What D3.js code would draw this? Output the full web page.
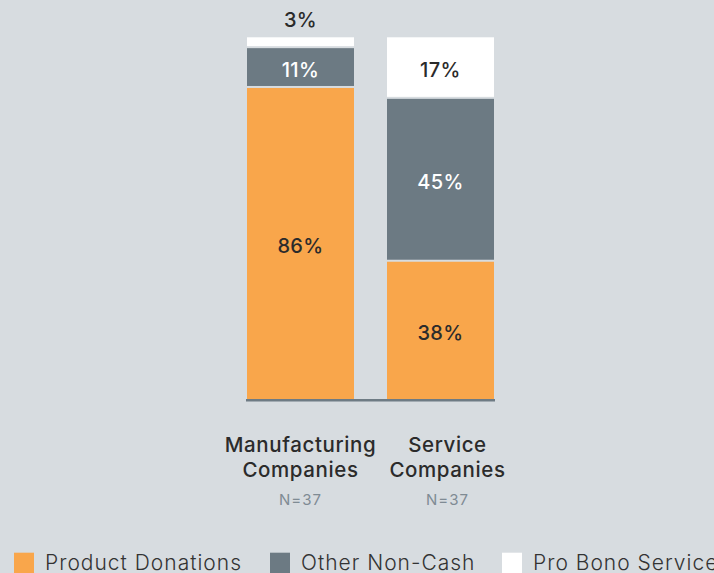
<!DOCTYPE html>
<html>
<head>
<meta charset="utf-8">
<script src="https://cdn.jsdelivr.net/npm/d3@7"></script>
<style>
  html, body { margin: 0; padding: 0; background: #d7dce0; overflow: hidden; }
  svg { display: block; font-family: Inter, "Noto Sans", sans-serif; }
</style>
</head>
<body>
<svg id="chart" width="714" height="573"></svg>
<script>
// Categories and sample sizes
const categories = ["Manufacturing Companies", "Service Companies"];
const categoryLines = [["Manufacturing", "Companies"], ["Service", "Companies"]];
const sampleSizes = ["N=37", "N=37"];

// Share of non-cash giving by type (percent), stacked bottom to top
const seriesNames = ["Product Donations", "Other Non-Cash", "Pro Bono Service"];
const productDonations = [86, 38];
const otherNonCash = [11, 45];
const proBonoService = [3, 17];

const colors = ["#f9a64b", "#6c7a83", "#ffffff"];
const labelColors = ["#2b2b2b", "#ffffff", "#2b2b2b"];

const svg = d3.select("#chart");

const rows = categories.map((c, i) => ({
  category: c,
  [seriesNames[0]]: productDonations[i],
  [seriesNames[1]]: otherNonCash[i],
  [seriesNames[2]]: proBonoService[i]
}));

const series = d3.stack().keys(seriesNames)(rows);

const x = d3.scaleBand()
  .domain(categories)
  .range([247, 494])
  .paddingInner(0.2357)
  .paddingOuter(0);

const y = d3.scaleLinear().domain([0, 100]).range([399.3, 37.3]);

// Stacked segments, with a thin gap above each lower segment
const gap = 2;
const layers = svg.append("g").selectAll("g")
  .data(series)
  .join("g")
  .attr("fill", (d, i) => colors[i]);

layers.selectAll("rect")
  .data(d => d.map(p => ({ p, key: d.key })))
  .join("rect")
  .attr("x", d => x(d.p.data.category))
  .attr("width", x.bandwidth())
  .attr("y", d => y(d.p[1]))
  .attr("height", d => y(d.p[0]) - y(d.p[1]) - (d.p[0] > 0 ? gap : 0));

// Baseline
svg.append("line")
  .attr("x1", x.range()[0] - 1)
  .attr("x2", x.range()[1] + 1)
  .attr("y1", y(0) + 1)
  .attr("y2", y(0) + 1)
  .attr("stroke", "#6e7b84")
  .attr("stroke-width", 2.5);

// Value labels: inside the segment, or above the bar when the segment is thin
const labels = svg.append("g")
  .attr("font-size", 20)
  .attr("font-weight", 500)
  .attr("letter-spacing", 0.4)
  .attr("text-anchor", "middle");

series.forEach((s, si) => {
  s.forEach(p => {
    const v = p[1] - p[0];
    const cx = x(p.data.category) + x.bandwidth() / 2;
    const top = y(p[1]), bottom = y(p[0]) - (p[0] > 0 ? gap : 0);
    const thin = bottom - top < 20;
    labels.append("text")
      .attr("x", cx)
      .attr("y", thin ? y(100) - 10.5 : (top + bottom) / 2 + 9.5)
      .attr("fill", thin ? "#2b2b2b" : labelColors[si])
      .text(v + "%");
  });
});

// Category labels and sample sizes
const labelShift = [0, 7];
const catG = svg.append("g").attr("text-anchor", "middle");
categories.forEach((c, i) => {
  const cx = x(c) + x.bandwidth() / 2 + labelShift[i];
  categoryLines[i].forEach((line, li) => {
    catG.append("text")
      .attr("x", cx)
      .attr("y", 451.7 + li * 25)
      .attr("font-size", 20.5)
      .attr("font-weight", 500)
      .attr("letter-spacing", 0.6)
      .attr("fill", "#2b2b2b")
      .text(line);
  });
  catG.append("text")
    .attr("x", cx)
    .attr("y", 505)
    .attr("font-size", 15)
    .attr("font-weight", 400)
    .attr("letter-spacing", 1)
    .attr("fill", "#7f8b94")
    .text(sampleSizes[i]);
});

// Legend
const legendX = [14, 270, 502];
const legend = svg.append("g");
seriesNames.forEach((name, i) => {
  legend.append("rect")
    .attr("x", legendX[i])
    .attr("y", 552.7)
    .attr("width", 20)
    .attr("height", 21)
    .attr("fill", colors[i]);
  legend.append("text")
    .attr("x", legendX[i] + 31)
    .attr("y", 570)
    .attr("font-size", 21)
    .attr("font-weight", 300)
    .attr("letter-spacing", 1)
    .attr("fill", "#333333")
    .text(name);
});
</script>
</body>
</html>
